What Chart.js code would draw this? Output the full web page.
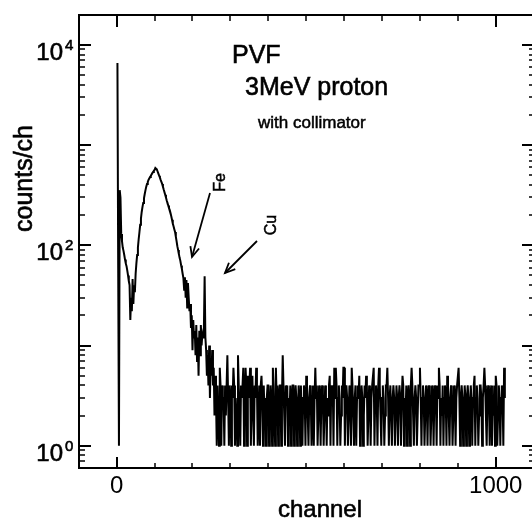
<!DOCTYPE html>
<html>
<head>
<meta charset="utf-8">
<script src="https://cdn.jsdelivr.net/npm/chart.js@4"></script>
<style>
  html, body { margin: 0; padding: 0; background: #fff; }
  #c { display: block; }
</style>
</head>
<body>
<canvas id="c" width="532" height="521"></canvas>
<script>
// ---- data (counts per channel, one value every 2 channels) ----
const channelStep = 2;
// channels 0 .. 264 : Rutherford spike, low-energy bump, main PIXE peak, Fe and Cu region
const countsPeak = [
  null, 6600, 60, 1, 355, 300, 130, 110, 95, 88,
  80, 72, 66, 62, 56, 50, 44, 40, 18, 30,
  22, 46, 26, 40, 34, 52, 66, 80, 95, 115,
  135, 160, 185, 215, 240, 265, 295, 325, 355, 385,
  410, 430, 450, 465, 480, 495, 510, 525, 540, 555,
  565, 590, 580, 570, 545, 520, 495, 475, 450, 430,
  410, 385, 360, 340, 320, 300, 280, 265, 250, 235,
  225, 210, 195, 180, 165, 155, 145, 136, 122, 110,
  98, 90, 82, 75, 70, 63, 58, 52, 47, 36,
  48, 30, 45, 24, 42, 30, 22, 26, 15, 20,
  9, 18, 12, 14, 8, 16, 7, 12, 5, 14,
  8, 16, 10, 13, 12, 14, 49, 12, 9, 5,
  8, 4, 10, 3, 7, 5, 9, 4, 6, 2,
  5, 3, 1
];
// channels 266 .. 1024 : flat background
const countsBackground = [
  4, 2, 1, 6, 4, 1, 4, 3, 3, 1, 4, 2, 4, 8, 3, 1, 4, 3, 1, 4,
  3, 6, 4, 1, 3, 2, 1, 8, 4, 2, 1, 4, 3, 4, 6, 1, 3, 6, 4, 1,
  5, 3, 4, 6, 1, 3, 5, 2, 1, 4, 3, 6, 4, 1, 2, 4, 1, 4, 5, 3,
  1, 4, 2, 3, 1, 3, 4, 4, 1, 2, 4, 3, 1, 6, 4, 2, 1, 6, 3, 4,
  1, 3, 4, 4, 1, 3, 8, 4, 2, 1, 4, 3, 4, 1, 3, 2, 4, 1, 3, 4,
  4, 1, 3, 4, 3, 1, 2, 4, 3, 1, 4, 2, 1, 3, 4, 3, 1, 5, 4, 2,
  1, 3, 4, 3, 1, 2, 4, 1, 3, 6, 3, 4, 1, 2, 4, 3, 1, 3, 4, 3,
  1, 2, 4, 3, 1, 3, 2, 4, 5, 1, 4, 3, 4, 1, 6, 3, 6, 4, 1, 3,
  4, 3, 1, 2, 4, 3, 6, 6, 1, 3, 4, 3, 1, 2, 4, 3, 1, 6, 4, 2,
  1, 3, 4, 1, 3, 4, 3, 5, 1, 2, 4, 3, 1, 2, 4, 3, 5, 4, 1, 2,
  4, 3, 1, 3, 4, 4, 6, 1, 3, 4, 3, 1, 4, 6, 4, 2, 1, 3, 4, 3,
  1, 2, 4, 4, 6, 3, 1, 3, 4, 2, 1, 3, 4, 3, 1, 2, 4, 3, 1, 3,
  4, 3, 1, 3, 5, 4, 1, 3, 2, 4, 1, 3, 4, 3, 1, 4, 6, 4, 2, 1,
  3, 4, 3, 1, 2, 4, 4, 6, 3, 1, 3, 4, 3, 1, 2, 4, 3, 1, 3, 4,
  3, 1, 2, 4, 3, 1, 3, 4, 3, 1, 4, 3, 6, 4, 1, 3, 2, 4, 1, 3,
  4, 3, 1, 5, 4, 2, 1, 3, 4, 3, 1, 2, 4, 3, 1, 3, 4, 4, 6, 3,
  1, 3, 4, 3, 1, 2, 4, 3, 1, 3, 4, 3, 1, 2, 4, 3, 1, 3, 4, 5,
  1, 3, 4, 3, 1, 2, 4, 4, 3, 1, 3, 4, 6, 4, 2, 1, 3, 4, 3, 1,
  3, 4, 1, 3, 2, 4, 1, 5, 4, 1, 2, 4, 3, 1, 3, 4, 3, 1, 6, 3
];
// ---- axes / ticks ----
const xRange = [-99.4, 1095.6];
const yRange = [0.633, 19856];
const xMajorTicks = [0, 1000];
const xMinorTicks = [100, 200, 300, 400, 500, 600, 700, 800, 900];
const yMajorTicks = [1, 10, 100, 1000, 10000];
const yLabelExponents = [0, 2, 4];
const yMinorTicks = [0.7, 0.8, 0.9,
  2, 3, 4, 5, 6, 7, 8, 9,
  20, 30, 40, 50, 60, 70, 80, 90,
  200, 300, 400, 500, 600, 700, 800, 900,
  2000, 3000, 4000, 5000, 6000, 7000, 8000, 9000];
// ---- texts ----
const xTitle = 'channel';
const yTitle = 'counts/ch';
const sampleLabel = 'PVF';
const beamLabel = '3MeV proton';
const noteLabel = 'with collimator';
const peakLabels = ['Fe', 'Cu'];

const FONT = "'Liberation Sans', Arial, Helvetica, sans-serif";

const counts = countsPeak.concat(countsBackground);
const points = counts.map((c, i) => ({ x: i * channelStep, y: c }));

const decorations = {
  id: 'decorations',
  afterDraw(chart) {
    const { ctx, chartArea: a, scales: { x, y } } = chart;
    ctx.save();
    ctx.strokeStyle = '#000';
    ctx.fillStyle = '#000';
    ctx.lineCap = 'butt';
    const seg = (x1, y1, x2, y2, w) => {
      ctx.lineWidth = w;
      ctx.beginPath(); ctx.moveTo(x1, y1); ctx.lineTo(x2, y2); ctx.stroke();
    };
    const text = (t, tx, ty, w) => {
      ctx.fillText(t, tx, ty);
      ctx.lineWidth = w;
      ctx.strokeText(t, tx, ty);
    };
    // top frame line
    seg(a.left - 1, a.top, a.right, a.top, 2);
    // inward tick marks
    xMajorTicks.forEach(v => {
      const px = Math.round(x.getPixelForValue(v));
      seg(px, a.bottom, px, a.bottom - 11, 2);
      seg(px, a.top, px, a.top + 12, 2);
    });
    xMinorTicks.forEach(v => {
      const px = Math.round(x.getPixelForValue(v));
      seg(px, a.bottom, px, a.bottom - 5, 1.5);
      seg(px, a.top, px, a.top + 6, 1.5);
    });
    yMajorTicks.forEach(v => {
      const py = Math.round(y.getPixelForValue(v));
      seg(a.left, py, a.left + 12, py, 2);
      seg(a.right, py, a.right - 10, py, 2);
    });
    yMinorTicks.forEach(v => {
      const py = Math.round(y.getPixelForValue(v));
      seg(a.left, py, a.left + 6, py, 1.5);
      seg(a.right, py, a.right - 3, py, 1.5);
    });

    // y tick labels: 10 with superscript exponent
    ctx.textBaseline = 'alphabetic';
    yLabelExponents.forEach(e => {
      const py = y.getPixelForValue(Math.pow(10, e));
      ctx.font = '24px ' + FONT;
      ctx.textAlign = 'right';
      text('10', 63, py + 15, 0.6);
      ctx.font = '15px ' + FONT;
      ctx.textAlign = 'left';
      text(String(e), 65, py + 5, 0.6);
    });

    // axis titles
    ctx.font = '24px ' + FONT;
    ctx.textAlign = 'center';
    text(xTitle, 320, 517, 0.6);
    ctx.save();
    ctx.translate(32, 178.5);
    ctx.rotate(-Math.PI / 2);
    ctx.font = '25px ' + FONT;
    text(yTitle, 0, 0, 0.6);
    ctx.restore();

    // annotation texts
    ctx.textAlign = 'left';
    ctx.font = '25px ' + FONT;
    text(sampleLabel, 232, 63, 0.6);
    text(beamLabel, 245, 95, 0.6);
    ctx.font = '17px ' + FONT;
    text(noteLabel, 258, 128, 0.5);

    const rotLabel = (t, bx, cy) => {
      ctx.save();
      ctx.translate(bx, cy);
      ctx.rotate(-Math.PI / 2);
      ctx.font = '16px ' + FONT;
      ctx.textAlign = 'center';
      text(t, 0, 0, 0.5);
      ctx.restore();
    };
    rotLabel(peakLabels[0], 225, 182.5);
    rotLabel(peakLabels[1], 276, 225);

    const arrow = (x1, y1, x2, y2) => {
      seg(x1, y1, x2, y2, 1.8);
      const ang = Math.atan2(y2 - y1, x2 - x1);
      const L = 11, spread = 0.42;
      ctx.lineWidth = 1.8;
      ctx.beginPath();
      ctx.moveTo(x2 - L * Math.cos(ang - spread), y2 - L * Math.sin(ang - spread));
      ctx.lineTo(x2, y2);
      ctx.lineTo(x2 - L * Math.cos(ang + spread), y2 - L * Math.sin(ang + spread));
      ctx.stroke();
    };
    arrow(210, 193, 192, 257);
    arrow(257, 241, 225, 273);
    ctx.restore();
  }
};

new Chart(document.getElementById('c').getContext('2d'), {
  type: 'line',
  data: {
    datasets: [{
      data: points,
      borderColor: '#000',
      borderWidth: 2,
      pointRadius: 0,
      tension: 0,
      fill: false,
      spanGaps: false
    }]
  },
  options: {
    responsive: false,
    animation: false,
    devicePixelRatio: 1,
    layout: { padding: { left: 0, right: 0, top: 15, bottom: 0 } },
    plugins: { legend: { display: false }, tooltip: { enabled: false }, title: { display: false } },
    scales: {
      x: {
        type: 'linear',
        min: xRange[0],
        max: xRange[1],
        afterBuildTicks(s) { s.ticks = xMajorTicks.map(v => ({ value: v })); },
        afterFit(s) { s.height = 53; s.paddingLeft = 0; s.paddingRight = 0; },
        grid: { display: false, drawTicks: false },
        border: { display: true, color: '#000', width: 2 },
        ticks: {
          autoSkip: false, maxRotation: 0, minRotation: 0,
          color: '#000', padding: 4,
          font: { family: FONT, size: 24 },
          callback: v => String(v)
        }
      },
      y: {
        type: 'logarithmic',
        min: yRange[0],
        max: yRange[1],
        afterBuildTicks(s) { s.ticks = yMajorTicks.map(v => ({ value: v })); },
        afterFit(s) { s.width = 79; s.paddingTop = 0; s.paddingBottom = 0; },
        grid: { display: false, drawTicks: false },
        border: { display: true, color: '#000', width: 2 },
        ticks: { display: false }
      }
    }
  },
  plugins: [decorations]
});
</script>
</body>
</html>
